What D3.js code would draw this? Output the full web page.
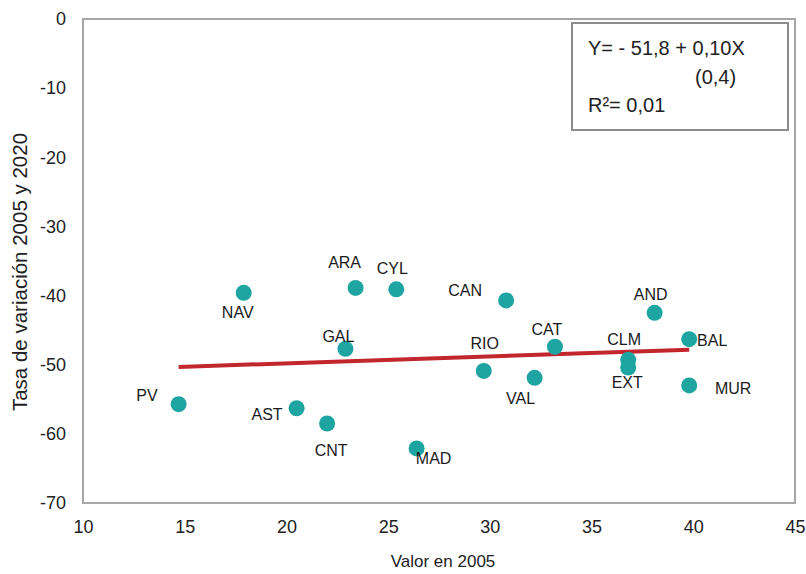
<!DOCTYPE html>
<html>
<head>
<meta charset="utf-8">
<script src="https://cdn.jsdelivr.net/npm/d3@7"></script>
<style>
  body { margin: 0; background: #fff; }
  text { font-family: "Liberation Sans", Arial, sans-serif; }
</style>
</head>
<body>
<script>
// regions, value in 2005 (x) and change 2005-2020 (y)
const regions = ["PV", "NAV", "ARA", "CYL", "GAL", "AST", "CNT", "MAD", "CAN",
                 "RIO", "VAL", "CAT", "CLM", "EXT", "AND", "BAL", "MUR"];
const valor2005 = [14.7, 17.9, 23.4, 25.4, 22.9, 20.5, 22.0, 26.4, 30.8,
                   29.7, 32.2, 33.2, 36.8, 36.8, 38.1, 39.8, 39.8];
const tasa = [-55.7, -39.6, -38.9, -39.1, -47.7, -56.3, -58.5, -62.1, -40.7,
              -50.9, -51.9, -47.4, -49.3, -50.4, -42.5, -46.3, -53.0];

const xTicks = [10, 15, 20, 25, 30, 35, 40, 45];
const yTicks = [0, -10, -20, -30, -40, -50, -60, -70];

// regression line  Y = -51,8 + 0,10X
const fitIntercept = -51.8;
const fitSlope = 0.10;
const fitRange = [14.7, 39.8];
const eqLines = ["Y= - 51,8 + 0,10X", "(0,4)", "R²= 0,01"];

// label placement relative to each dot: [dx, dy, anchor]
const labelPos = {
  PV: [-21, -3, "end"], NAV: [-6, 25, "middle"], ARA: [-11, -20, "middle"],
  CYL: [-4, -15, "middle"], GAL: [-7, -7, "middle"], AST: [-14, 12, "end"],
  CNT: [4, 33, "middle"], MAD: [17, 16, "middle"], CAN: [-41, -4, "middle"],
  RIO: [1, -22, "middle"], VAL: [-14, 26, "middle"], CAT: [-8, -12, "middle"],
  CLM: [-4, -15, "middle"], EXT: [-1, 21, "middle"], AND: [-4, -13, "middle"],
  BAL: [23, 7, "middle"], MUR: [44, 9, "middle"]
};

const W = 806, H = 574;
const pLeft = 83, pRight = 795, pTop = 19, pBottom = 503;

const svg = d3.select("body").append("svg")
  .attr("width", W)
  .attr("height", H);

const x = d3.scaleLinear().domain([10, 45]).range([pLeft, pRight]);
const y = d3.scaleLinear().domain([-70, 0]).range([pBottom, pTop]);

// frame
svg.append("rect")
  .attr("x", pLeft).attr("y", pTop)
  .attr("width", pRight - pLeft).attr("height", pBottom - pTop)
  .attr("fill", "none")
  .attr("stroke", "#a6a6a6")
  .attr("stroke-width", 2);

// y axis labels (plain hyphen for the minus, as in the original)
const yAxis = svg.append("g")
  .attr("transform", `translate(${pLeft},0)`)
  .call(d3.axisLeft(y).tickValues(yTicks).tickSize(0).tickPadding(17).tickFormat(d => String(d)));
yAxis.select(".domain").remove();
yAxis.selectAll("text")
  .attr("font-size", 18)
  .attr("font-family", "Liberation Sans, Arial, sans-serif")
  .attr("fill", "#222");

// x axis labels
const xAxis = svg.append("g")
  .attr("transform", `translate(0,${pBottom})`)
  .call(d3.axisBottom(x).tickValues(xTicks).tickSize(0).tickPadding(17).tickFormat(d => String(d)));
xAxis.select(".domain").remove();
xAxis.selectAll("text")
  .attr("font-size", 18)
  .attr("font-family", "Liberation Sans, Arial, sans-serif")
  .attr("fill", "#222");

// axis titles
svg.append("text")
  .attr("x", 443)
  .attr("y", 567)
  .attr("text-anchor", "middle")
  .attr("font-size", 17)
  .attr("fill", "#222")
  .text("Valor en 2005");

svg.append("text")
  .attr("transform", `translate(27, 272) rotate(-90)`)
  .attr("text-anchor", "middle")
  .attr("font-size", 20.5)
  .attr("fill", "#222")
  .text("Tasa de variación 2005 y 2020");

// regression line
svg.append("line")
  .attr("x1", x(fitRange[0])).attr("y1", y(fitIntercept + fitSlope * fitRange[0]))
  .attr("x2", x(fitRange[1])).attr("y2", y(fitIntercept + fitSlope * fitRange[1]))
  .attr("stroke", "#c1272d")
  .attr("stroke-width", 4);

const points = regions.map((r, i) => ({ name: r, vx: valor2005[i], vy: tasa[i] }));

svg.selectAll(".dot").data(points)
  .enter().append("circle")
  .attr("class", "dot")
  .attr("cx", d => x(d.vx))
  .attr("cy", d => y(d.vy))
  .attr("r", 8)
  .attr("fill", "#1ea5a1");

svg.selectAll(".lbl").data(points)
  .enter().append("text")
  .attr("class", "lbl")
  .attr("x", d => x(d.vx) + labelPos[d.name][0])
  .attr("y", d => y(d.vy) + labelPos[d.name][1])
  .attr("text-anchor", d => labelPos[d.name][2])
  .attr("font-size", 16)
  .attr("fill", "#1a1a1a")
  .text(d => d.name);

// equation box
svg.append("rect")
  .attr("x", 572).attr("y", 23)
  .attr("width", 216).attr("height", 107)
  .attr("fill", "#fff")
  .attr("stroke", "#8c8c8c")
  .attr("stroke-width", 2);

const eq = svg.append("g")
  .attr("font-size", 20)
  .attr("font-family", "Open Sans, sans-serif")
  .attr("fill", "#222");
eq.append("text").attr("x", 588).attr("y", 55).attr("font-family", "Open Sans, sans-serif").text(eqLines[0]);
eq.append("text").attr("x", 695).attr("y", 84).attr("font-family", "Open Sans, sans-serif").text(eqLines[1]);
eq.append("text").attr("x", 588).attr("y", 112).attr("font-family", "Open Sans, sans-serif").text(eqLines[2]);
</script>
</body>
</html>
